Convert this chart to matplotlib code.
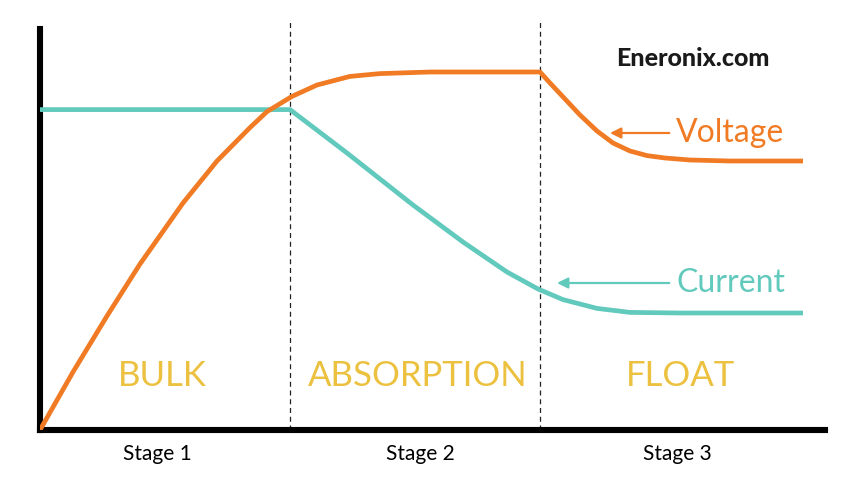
import matplotlib.pyplot as plt

# stage units on x (0..3), relative level on y (0..100)
voltage_x = [0, 0.132, 0.268, 0.40, 0.572, 0.708, 0.84, 0.908, 1.008, 1.108,
             1.24, 1.36, 1.56, 2.0, 2.04, 2.1, 2.16, 2.228, 2.292, 2.36,
             2.428, 2.5, 2.6, 2.76, 3.052]
voltage_y = [0, 14.5, 28.5, 41.5, 56.75, 67.25, 75.6, 79.6, 83.4, 86.25,
             88.4, 89.1, 89.5, 89.5, 86.75, 82.75, 78.75, 74.75, 71.75, 69.75,
             68.6, 68, 67.5, 67.25, 67.25]

current_x = [0, 1.0, 1.228, 1.492, 1.692, 1.868, 1.992, 2.092, 2.228, 2.36,
             2.56, 3.052]
current_y = [80.1, 80.1, 69.25, 56.25, 47, 39.5, 35.25, 32.6, 30.4, 29.4,
             29.25, 29.25]

stage_bounds = [1.0, 2.0]
stage_pos = [0.47, 1.52, 2.55]
stage_labels = ['Stage 1', 'Stage 2', 'Stage 3']
phase_labels = ['BULK', 'ABSORPTION', 'FLOAT']
phase_pos = [0.49, 1.51, 2.56]

orange = '#F07B24'
teal = '#62C9BD'
gold = '#EBC13F'

fig = plt.figure(figsize=(8.63, 4.98), dpi=100)
ax = fig.add_axes([40 / 863, 68 / 498, 785 / 863, 401 / 498])

ax.plot(current_x, current_y, color=teal, lw=3.4, solid_capstyle='butt',
        solid_joinstyle='round', zorder=3)
ax.plot(voltage_x, voltage_y, color=orange, lw=3.4, solid_capstyle='butt',
        solid_joinstyle='round', zorder=4)

for b in stage_bounds:
    ax.vlines(b, 0, 102, colors='#222222', linestyles=(0, (4, 3)), lw=0.9, clip_on=False)

ax.set_xlim(0, 3.14)
ax.set_ylim(0, 100.25)

for s in ['top', 'right']:
    ax.spines[s].set_visible(False)
for s in ['left', 'bottom']:
    ax.spines[s].set_linewidth(4.4)
    ax.spines[s].set_color('black')

ax.set_yticks([])
ax.set_xticks(stage_pos)
ax.set_xticklabels(stage_labels, fontsize=15, family='Lato')
ax.tick_params(axis='x', length=0, pad=10)

for lab, x in zip(phase_labels, phase_pos):
    ax.text(x, 13.5, lab, color=gold, fontsize=25, family='Lato',
            ha='center', va='center')

ax.text(2.61, 93, 'Eneronix.com', fontsize=18, fontweight='black', family='Lato',
        ha='center', va='center', color='#1a1a1a')

ax.annotate('Voltage', xy=(2.28, 74.25), xytext=(2.545, 74.25),
            color=orange, fontsize=23, family='Lato', ha='left', va='center',
            arrowprops=dict(arrowstyle='-|>', color=orange, lw=1.6,
                            mutation_scale=16, shrinkA=3, shrinkB=0))
ax.annotate('Current', xy=(2.068, 36.75), xytext=(2.545, 36.75),
            color=teal, fontsize=23, family='Lato', ha='left', va='center',
            arrowprops=dict(arrowstyle='-|>', color=teal, lw=1.6,
                            mutation_scale=16, shrinkA=3, shrinkB=0))

plt.savefig('out.png')
